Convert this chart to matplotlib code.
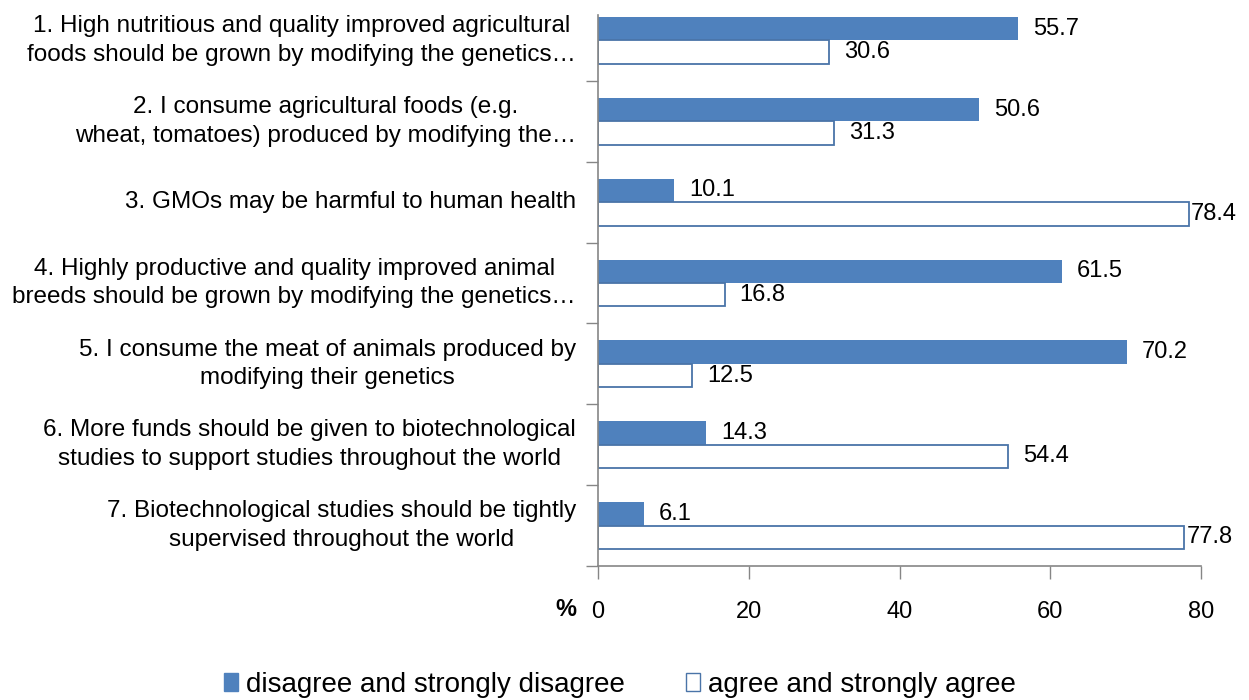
import matplotlib.pyplot as plt
import matplotlib.patches as mpatches
import matplotlib.transforms as mtransforms
import numpy as np

plt.rcParams["font.family"] = ["Liberation Sans", "DejaVu Sans"]

statements = [
    "1. High nutritious and quality improved agricultural\nfoods should be grown by modifying the genetics…",
    "2. I consume agricultural foods (e.g.\nwheat, tomatoes) produced by modifying the…",
    "3. GMOs may be harmful to human health",
    "4. Highly productive and quality improved animal\nbreeds should be grown by modifying the genetics…",
    "5. I consume the meat of animals produced by\nmodifying their genetics",
    "6. More funds should be given to biotechnological\nstudies to support studies throughout the world",
    "7. Biotechnological studies should be tightly\nsupervised throughout the world",
]
disagree = [55.7, 50.6, 10.1, 61.5, 70.2, 14.3, 6.1]
agree = [30.6, 31.3, 78.4, 16.8, 12.5, 54.4, 77.8]
x_ticks = [0, 20, 40, 60, 80]

BLUE = "#4F81BD"
EDGE = "#4A74A8"
AXIS_GREY = "#868686"

fig = plt.figure(figsize=(12.49, 7.0), dpi=100)
ax = fig.add_axes([598 / 1249, 134 / 700, 603 / 1249, 566 / 700])

y = np.arange(len(statements))
h = 0.29
ax.barh(y - 0.145, disagree, height=h, color=BLUE, edgecolor=BLUE, linewidth=0)
ax.barh(y + 0.145, agree, height=h, color="white", edgecolor=EDGE, linewidth=1.3)

# value labels just past each bar end; the longest ones sit tight against the bar
for yi, val in zip(y - 0.145, disagree):
    off = 2 if val > 75 else 15
    tr = mtransforms.offset_copy(ax.transData, fig=fig, x=off, y=0, units="dots")
    ax.text(val, yi, f"{val:.1f}", transform=tr, ha="left", va="center", fontsize=17)
for yi, val in zip(y + 0.145, agree):
    off = 2 if val > 75 else 15
    tr = mtransforms.offset_copy(ax.transData, fig=fig, x=off, y=0, units="dots")
    ax.text(val, yi, f"{val:.1f}", transform=tr, ha="left", va="center", fontsize=17)

ax.set_xlim(0, 80)
ax.set_ylim(6.5, -0.5)
ax.set_xticks(x_ticks)
ax.set_xticklabels([str(t) for t in x_ticks], fontsize=17)
ax.tick_params(axis="x", direction="out", length=9, width=1, color=AXIS_GREY, pad=16)

# category labels on the left, tick marks at the category boundaries
ax.set_yticks([])
ax.set_yticks(np.arange(0.5, 7.0, 1.0), minor=True)
ax.tick_params(axis="y", which="minor", direction="out", length=9, width=1, color=AXIS_GREY)
lab_tr = mtransforms.offset_copy(ax.get_yaxis_transform(), fig=fig, x=-22, y=0, units="dots")
for yi, txt in zip(y, statements):
    ax.text(0, yi, txt, transform=lab_tr, ha="right", va="center",
            multialignment="center", fontsize=17.5, linespacing=1.38)

pct_tr = mtransforms.offset_copy(ax.transAxes, fig=fig, x=-32, y=-44, units="dots")
ax.text(0, 0, "%", transform=pct_tr, ha="center", va="center", fontsize=17, fontweight="bold")

for side in ("top", "right"):
    ax.spines[side].set_visible(False)
for side in ("left", "bottom"):
    ax.spines[side].set_color(AXIS_GREY)
    ax.spines[side].set_linewidth(1.2)
ax.spines["left"].set_bounds(-0.31, 6.5)

handles = [
    mpatches.Patch(facecolor=BLUE, edgecolor=BLUE, label="disagree and strongly disagree"),
    mpatches.Patch(facecolor="white", edgecolor=EDGE, label="agree and strongly agree"),
]
fig.legend(handles=handles, loc="center", bbox_to_anchor=(620 / 1249, 1 - 685 / 700),
           ncol=2, frameon=False, fontsize=20, handlelength=0.5, handleheight=0.6,
           handletextpad=0.3, columnspacing=2.2)

fig.savefig("out.png", dpi=100)
